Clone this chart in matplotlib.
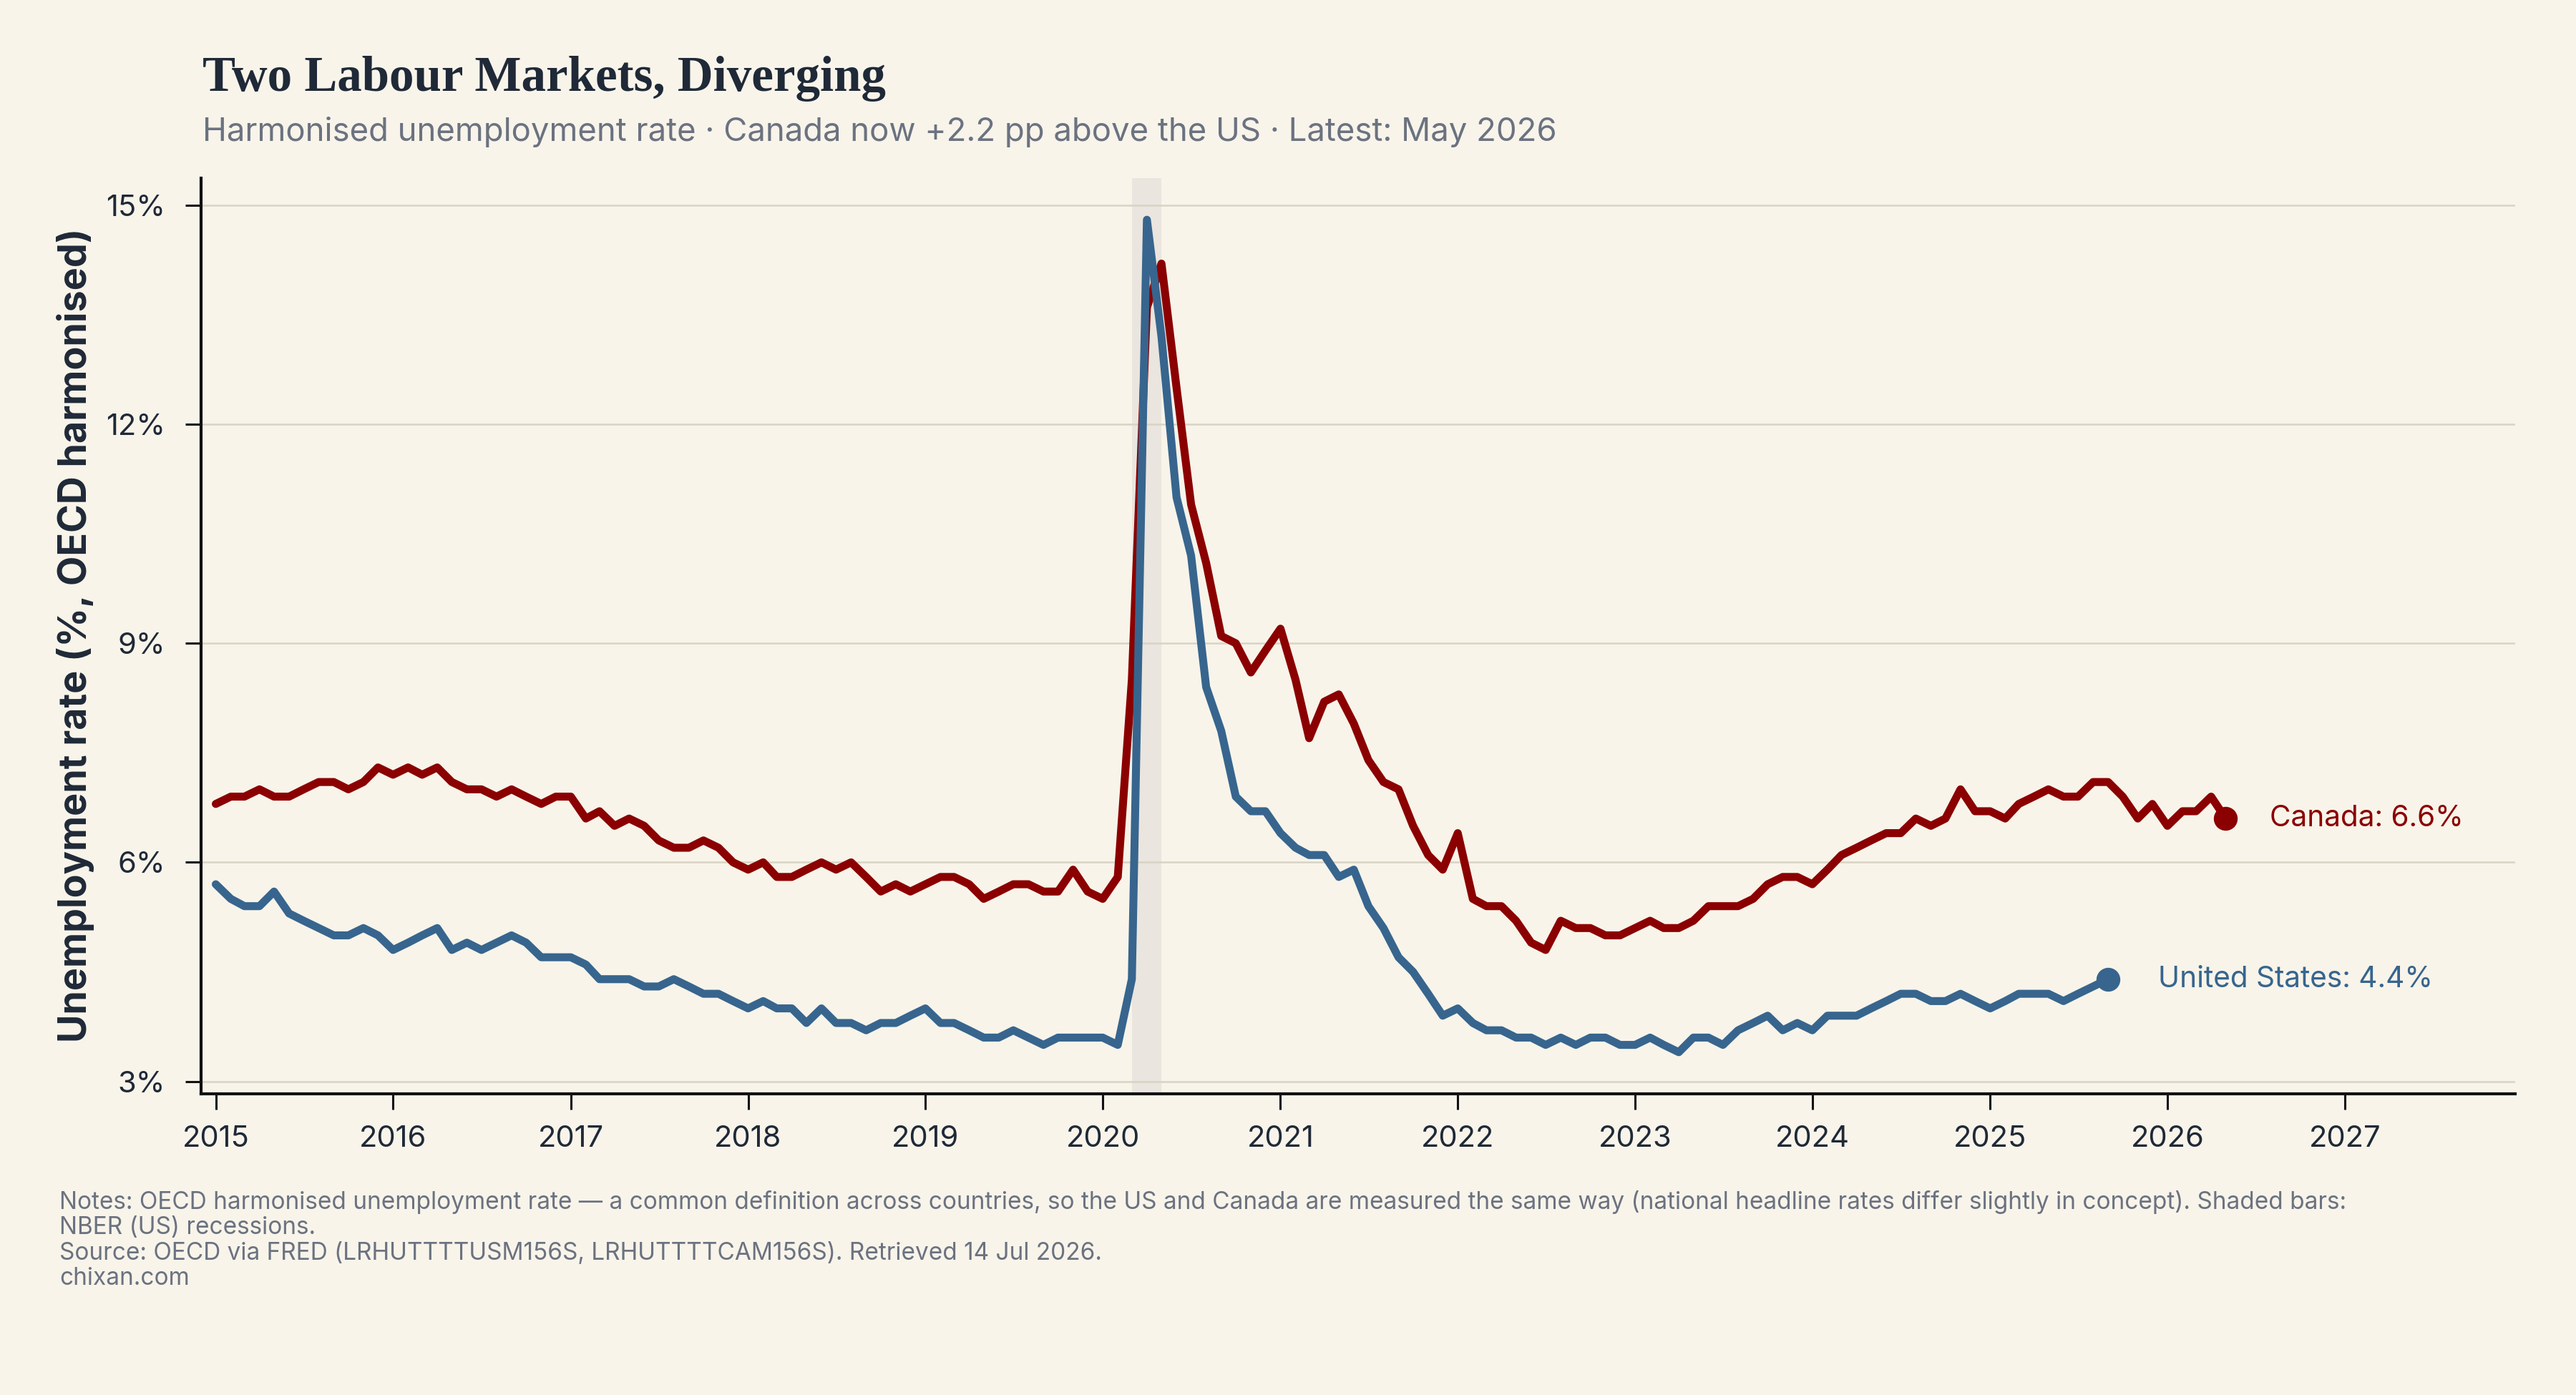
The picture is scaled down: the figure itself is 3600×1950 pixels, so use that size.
import matplotlib
matplotlib.use("Agg")
import matplotlib.pyplot as plt
import matplotlib.dates as mdates
from matplotlib.ticker import MultipleLocator, FuncFormatter
import pandas as pd

BG      = "#F8F4EA"
INK     = "#1F2937"
MUTED   = "#6B7280"
CA_RED  = "#8B0000"
US_BLUE = "#37658E"
GRID    = "#D9D3C4"

plt.rcParams["font.family"] = ["Inter", "DejaVu Sans"]

# monthly harmonised unemployment rate (%), starting Jan 2015
us_rate = [
    5.7, 5.5, 5.4, 5.4, 5.6, 5.3, 5.2, 5.1, 5.0, 5.0, 5.1, 5.0,   # 2015
    4.8, 4.9, 5.0, 5.1, 4.8, 4.9, 4.8, 4.9, 5.0, 4.9, 4.7, 4.7,   # 2016
    4.7, 4.6, 4.4, 4.4, 4.4, 4.3, 4.3, 4.4, 4.3, 4.2, 4.2, 4.1,   # 2017
    4.0, 4.1, 4.0, 4.0, 3.8, 4.0, 3.8, 3.8, 3.7, 3.8, 3.8, 3.9,   # 2018
    4.0, 3.8, 3.8, 3.7, 3.6, 3.6, 3.7, 3.6, 3.5, 3.6, 3.6, 3.6,   # 2019
    3.6, 3.5, 4.4, 14.8, 13.2, 11.0, 10.2, 8.4, 7.8, 6.9, 6.7, 6.7,  # 2020
    6.4, 6.2, 6.1, 6.1, 5.8, 5.9, 5.4, 5.1, 4.7, 4.5, 4.2, 3.9,   # 2021
    4.0, 3.8, 3.7, 3.7, 3.6, 3.6, 3.5, 3.6, 3.5, 3.6, 3.6, 3.5,   # 2022
    3.5, 3.6, 3.5, 3.4, 3.6, 3.6, 3.5, 3.7, 3.8, 3.9, 3.7, 3.8,   # 2023
    3.7, 3.9, 3.9, 3.9, 4.0, 4.1, 4.2, 4.2, 4.1, 4.1, 4.2, 4.1,   # 2024
    4.0, 4.1, 4.2, 4.2, 4.2, 4.1, 4.2, 4.3, 4.4,                  # 2025 (to Sep)
]

ca_rate = [
    6.8, 6.9, 6.9, 7.0, 6.9, 6.9, 7.0, 7.1, 7.1, 7.0, 7.1, 7.3,   # 2015
    7.2, 7.3, 7.2, 7.3, 7.1, 7.0, 7.0, 6.9, 7.0, 6.9, 6.8, 6.9,   # 2016
    6.9, 6.6, 6.7, 6.5, 6.6, 6.5, 6.3, 6.2, 6.2, 6.3, 6.2, 6.0,   # 2017
    5.9, 6.0, 5.8, 5.8, 5.9, 6.0, 5.9, 6.0, 5.8, 5.6, 5.7, 5.6,   # 2018
    5.7, 5.8, 5.8, 5.7, 5.5, 5.6, 5.7, 5.7, 5.6, 5.6, 5.9, 5.6,   # 2019
    5.5, 5.8, 8.5, 13.6, 14.2, 12.5, 10.9, 10.1, 9.1, 9.0, 8.6, 8.9,  # 2020
    9.2, 8.5, 7.7, 8.2, 8.3, 7.9, 7.4, 7.1, 7.0, 6.5, 6.1, 5.9,   # 2021
    6.4, 5.5, 5.4, 5.4, 5.2, 4.9, 4.8, 5.2, 5.1, 5.1, 5.0, 5.0,   # 2022
    5.1, 5.2, 5.1, 5.1, 5.2, 5.4, 5.4, 5.4, 5.5, 5.7, 5.8, 5.8,   # 2023
    5.7, 5.9, 6.1, 6.2, 6.3, 6.4, 6.4, 6.6, 6.5, 6.6, 7.0, 6.7,   # 2024
    6.7, 6.6, 6.8, 6.9, 7.0, 6.9, 6.9, 7.1, 7.1, 6.9, 6.6, 6.8,   # 2025
    6.5, 6.7, 6.7, 6.9, 6.6,                                      # 2026 (to May)
]

us_dates = pd.date_range("2015-01-01", periods=len(us_rate), freq="MS")
ca_dates = pd.date_range("2015-01-01", periods=len(ca_rate), freq="MS")

recession_start = "2020-03-01"
recession_end   = "2020-05-01"

notes = [
    "Notes: OECD harmonised unemployment rate \u2014 a common definition across countries, so the US and Canada "
    "are measured the same way (national headline rates differ slightly in concept). Shaded bars:",
    "NBER (US) recessions.",
    "Source: OECD via FRED (LRHUTTTTUSM156S, LRHUTTTTCAM156S). Retrieved 14 Jul 2026.",
    "chixan.com",
]

fig = plt.figure(figsize=(18, 9.75), dpi=200, facecolor=BG)
ax = fig.add_axes([0.0781, 0.2159, 0.8983, 0.6564], facecolor=BG)

ax.axvspan(pd.Timestamp(recession_start), pd.Timestamp(recession_end),
           color="#EAE5DE", lw=0, zorder=0.5)

ax.plot(ca_dates, ca_rate, color=CA_RED, lw=4.0, zorder=3,
        solid_joinstyle="round", solid_capstyle="round")
ax.plot(us_dates, us_rate, color=US_BLUE, lw=4.0, zorder=4,
        solid_joinstyle="round", solid_capstyle="round")

# end dots + direct labels
for dates, vals, color, name, off in [
    (ca_dates, ca_rate, CA_RED, "Canada", 22),
    (us_dates, us_rate, US_BLUE, "United States", 25),
]:
    ax.plot(dates[-1], vals[-1], "o", ms=11, color=color, zorder=5)
    ax.annotate(f"{name}: {vals[-1]:.1f}%", xy=(dates[-1], vals[-1]),
                xytext=(off, 0), textcoords="offset points",
                color=color, fontsize=14.6, ha="left", va="center")

ax.set_xlim(pd.Timestamp("2014-12-02"), pd.Timestamp("2027-12-18"))
ax.xaxis.set_major_locator(mdates.YearLocator())
ax.xaxis.set_major_formatter(mdates.DateFormatter("%Y"))
ax.yaxis.set_major_locator(MultipleLocator(3))
ax.yaxis.set_major_formatter(FuncFormatter(lambda v, _: f"{v:.0f}%"))

ax.yaxis.grid(True, color=GRID, lw=0.9)
ax.set_axisbelow(True)
for side in ("top", "right"):
    ax.spines[side].set_visible(False)
for side in ("left", "bottom"):
    ax.spines[side].set_linewidth(1.5)
    ax.spines[side].set_color("#111111")
ax.tick_params(axis="both", length=8, width=1.1, color="#111111",
               labelcolor=INK, labelsize=15)
ax.tick_params(axis="y", pad=10)
ax.tick_params(axis="x", pad=8)

fig.text(0.0292, 0.5445, "Unemployment rate (%, OECD harmonised)",
         rotation=90, ha="center", va="center",
         fontsize=19.4, fontweight="bold", color=INK)

fig.text(0.0786, 1 - 127 / 1950, "Two Labour Markets, Diverging",
         family="Liberation Serif", fontsize=24.8, fontweight="bold",
         color=INK, va="baseline")
fig.text(0.0786, 1 - 197 / 1950,
         "Harmonised unemployment rate \u00b7 Canada now +2.2 pp above the US \u00b7 Latest: May 2026",
         fontsize=16.4, color=MUTED, va="baseline")

for i, line in enumerate(notes):
    fig.text(0.023, 1 - (1690 + i * 35.5) / 1950, line,
             fontsize=12, color=MUTED, va="baseline")

fig.savefig("out.png", dpi=200, facecolor=BG)
